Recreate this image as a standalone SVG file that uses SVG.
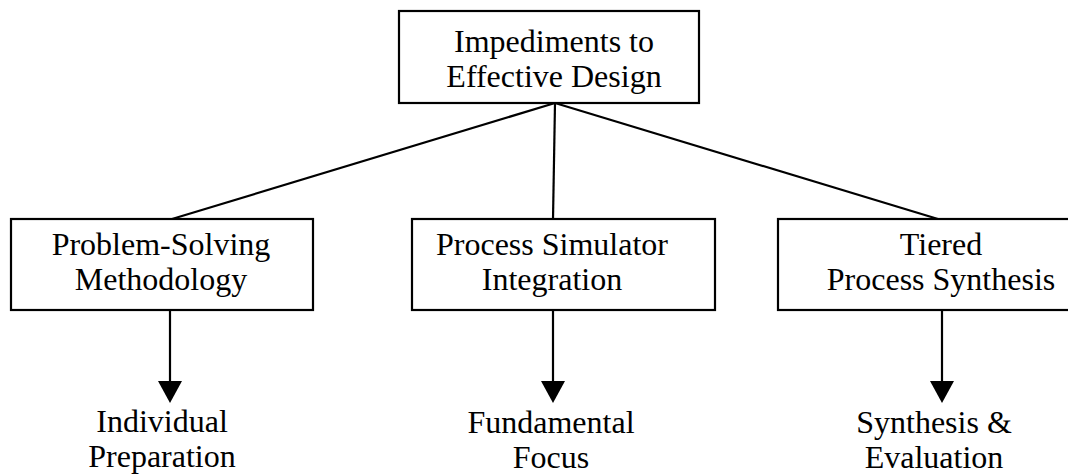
<svg xmlns="http://www.w3.org/2000/svg" width="1068" height="474" viewBox="0 0 1068 474">
  <style>
    .box { fill: #fff; stroke: #000; stroke-width: 2.2; }
    .lbl { font-family: "Liberation Serif", "Times New Roman", serif; font-size: 32px; fill: #000; text-anchor: middle; }
    .link { stroke: #000; stroke-width: 2.2; fill: none; }
  </style>
  <defs>
    <!-- downward arrowhead, tip at the origin -->
    <path id="head" d="M-12,-22 L12,-22 L0,0 Z" fill="#000"/>
  </defs>

  <rect width="1068" height="474" fill="#fff"/>

  <!-- connectors -->
  <g id="connectors">
    <line class="link" x1="555" y1="103" x2="172" y2="219"/>
    <line class="link" x1="555" y1="103" x2="553" y2="219"/>
    <line class="link" x1="555" y1="103" x2="938" y2="219"/>
    <line class="link" x1="170" y1="310" x2="170" y2="382"/>
    <use href="#head" x="170" y="403"/>
    <line class="link" x1="553" y1="310" x2="553" y2="382"/>
    <use href="#head" x="553" y="403"/>
    <line class="link" x1="942" y1="310" x2="942" y2="382"/>
    <use href="#head" x="942" y="403"/>
  </g>

  <!-- root -->
  <g id="impediments">
    <rect class="box" x="399" y="11" width="300" height="92"/>
    <text class="lbl" x="554" y="52">Impediments to</text>
    <text class="lbl" x="554" y="87">Effective Design</text>
  </g>

  <!-- second tier -->
  <g id="problem-solving">
    <rect class="box" x="11" y="219" width="302" height="91"/>
    <text class="lbl" x="161" y="255">Problem-Solving</text>
    <text class="lbl" x="161" y="290">Methodology</text>
  </g>
  <g id="process-simulator">
    <rect class="box" x="412" y="219" width="303" height="91"/>
    <text class="lbl" x="552" y="255">Process Simulator</text>
    <text class="lbl" x="552" y="290">Integration</text>
  </g>
  <g id="tiered-synthesis">
    <rect class="box" x="778" y="219" width="295" height="91"/>
    <text class="lbl" x="941" y="255">Tiered</text>
    <text class="lbl" x="941" y="290">Process Synthesis</text>
  </g>

  <!-- outcomes -->
  <g id="individual-preparation">
    <text class="lbl" x="162" y="432">Individual</text>
    <text class="lbl" x="162" y="467">Preparation</text>
  </g>
  <g id="fundamental-focus">
    <text class="lbl" x="551" y="433">Fundamental</text>
    <text class="lbl" x="551" y="468">Focus</text>
  </g>
  <g id="synthesis-evaluation">
    <text class="lbl" x="934" y="433">Synthesis &amp;</text>
    <text class="lbl" x="934" y="468">Evaluation</text>
  </g>
</svg>
